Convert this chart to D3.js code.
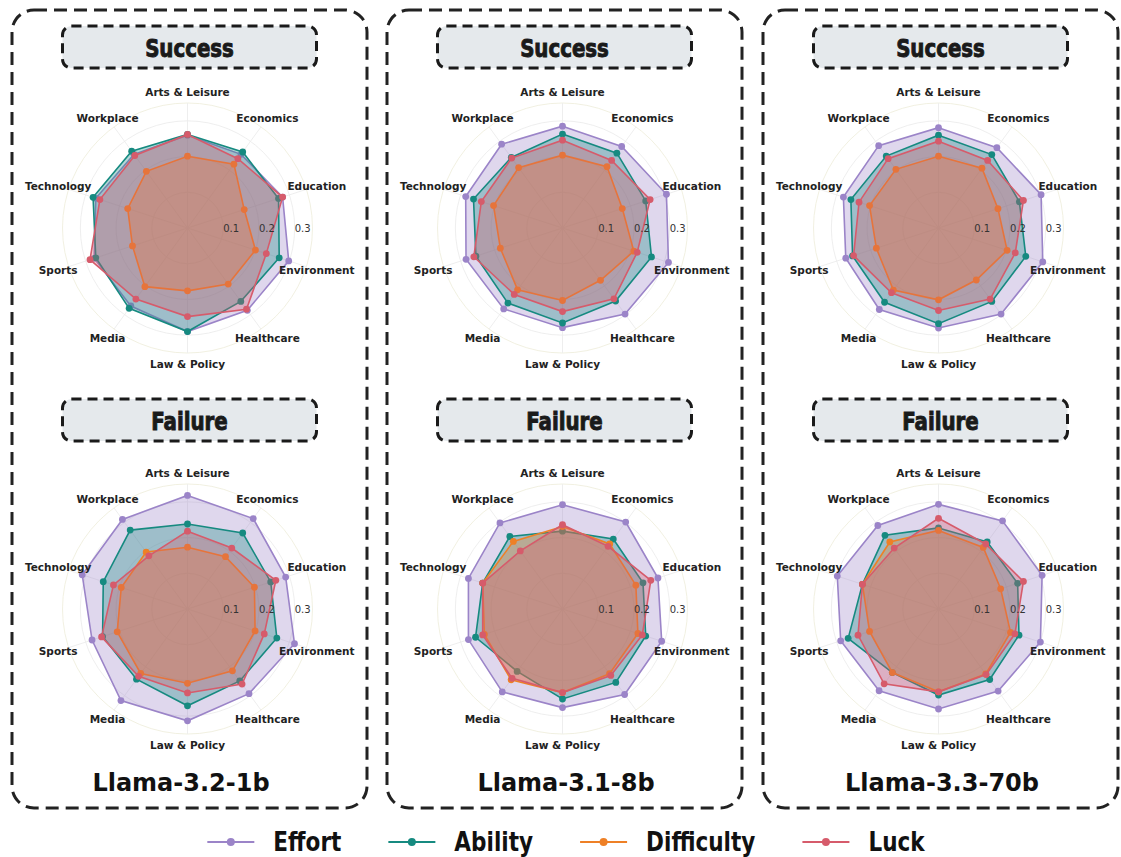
<!DOCTYPE html>
<html>
<head>
<meta charset="utf-8">
<script src="https://cdn.jsdelivr.net/npm/d3@7"></script>
<style>
  body { margin: 0; background: #fff; }
  svg { display: block; }
</style>
</head>
<body>
<svg id="chart" width="1121" height="857"></svg>
<script>
const categories = ["Arts & Leisure", "Economics", "Education", "Environment", "Healthcare",
                    "Law & Policy", "Media", "Sports", "Technology", "Workplace"];
const seriesNames = ["Effort", "Ability", "Difficulty", "Luck"];
const models = ["Llama-3.2-1b", "Llama-3.1-8b", "Llama-3.3-70b"];
const outcomes = ["Success", "Failure"];
const radialTicks = [0.1, 0.2, 0.3];
const radialTickLabels = ["0.1", "0.2", "0.3"];

// rows: Effort, Ability, Difficulty, Luck (columns follow categories)
const llama1bSuccess = [
  [0.260, 0.255, 0.280, 0.298, 0.285, 0.290, 0.270, 0.275, 0.270, 0.255],
  [0.262, 0.263, 0.268, 0.270, 0.254, 0.290, 0.278, 0.270, 0.278, 0.266],
  [0.201, 0.221, 0.167, 0.200, 0.194, 0.176, 0.203, 0.162, 0.176, 0.196],
  [0.262, 0.240, 0.280, 0.232, 0.281, 0.248, 0.246, 0.287, 0.258, 0.251]
];
const llama1bFailure = [
  [0.318, 0.313, 0.289, 0.315, 0.293, 0.313, 0.317, 0.281, 0.310, 0.310],
  [0.238, 0.263, 0.245, 0.263, 0.249, 0.271, 0.243, 0.250, 0.248, 0.273],
  [0.173, 0.181, 0.197, 0.199, 0.214, 0.208, 0.223, 0.207, 0.195, 0.197],
  [0.218, 0.211, 0.260, 0.226, 0.260, 0.235, 0.233, 0.253, 0.218, 0.184]
];
const llama8bSuccess = [
  [0.285, 0.282, 0.306, 0.312, 0.298, 0.279, 0.280, 0.284, 0.285, 0.290],
  [0.263, 0.259, 0.245, 0.262, 0.253, 0.266, 0.260, 0.255, 0.262, 0.244],
  [0.204, 0.212, 0.176, 0.210, 0.181, 0.203, 0.214, 0.183, 0.203, 0.209],
  [0.246, 0.234, 0.258, 0.220, 0.245, 0.234, 0.230, 0.261, 0.239, 0.242]
];
const llama8bFailure = [
  [0.292, 0.301, 0.281, 0.292, 0.296, 0.276, 0.287, 0.277, 0.277, 0.298],
  [0.218, 0.242, 0.237, 0.245, 0.254, 0.252, 0.216, 0.256, 0.235, 0.251],
  [0.231, 0.225, 0.216, 0.222, 0.224, 0.234, 0.245, 0.230, 0.235, 0.234],
  [0.236, 0.217, 0.260, 0.235, 0.230, 0.234, 0.240, 0.235, 0.235, 0.201]
];
const llama70bSuccess = [
  [0.281, 0.278, 0.302, 0.307, 0.298, 0.280, 0.282, 0.273, 0.280, 0.285],
  [0.260, 0.254, 0.238, 0.257, 0.254, 0.268, 0.257, 0.253, 0.258, 0.249],
  [0.201, 0.207, 0.175, 0.202, 0.180, 0.201, 0.215, 0.183, 0.203, 0.203],
  [0.243, 0.234, 0.250, 0.226, 0.246, 0.231, 0.224, 0.250, 0.234, 0.240]
];
const llama70bFailure = [
  [0.293, 0.305, 0.305, 0.300, 0.284, 0.280, 0.283, 0.288, 0.298, 0.289],
  [0.227, 0.232, 0.233, 0.237, 0.244, 0.241, 0.220, 0.266, 0.224, 0.255],
  [0.220, 0.213, 0.183, 0.212, 0.225, 0.232, 0.220, 0.203, 0.224, 0.232],
  [0.254, 0.225, 0.250, 0.225, 0.227, 0.232, 0.259, 0.237, 0.224, 0.211]
];

const panelData = [
  [llama1bSuccess, llama1bFailure],
  [llama8bSuccess, llama8bFailure],
  [llama70bSuccess, llama70bFailure]
];

const colors = d3.scaleOrdinal()
  .domain(seriesNames)
  .range(["#9b84c8", "#168a80", "#ee8026", "#d65b6b"]);

const svg = d3.select('#chart');
const maxR = 0.35;

const r = d3.scaleLinear().domain([0, maxR]).range([0, 125]);
const angle = d3.scaleLinear().domain([0, categories.length]).range([0, 2 * Math.PI]);

const panelLeft = [12, 387, 763];
const panelW = 355;
const panelTop = 10, panelBottom = 808;
const radarY = [228, 609];
const boxY = [26, 399];
const modelX = [181, 566, 942];

const titleFont = '"DejaVu Sans Condensed", "DejaVu Sans", sans-serif';

const radialLine = d3.lineRadial()
  .angle((d, i) => angle(i))
  .radius(d => r(d))
  .curve(d3.curveLinearClosed);

panelLeft.forEach((px, m) => {
  const pcx = px + panelW / 2;
  const cx = pcx - 2;

  // panel frame
  svg.append('rect')
    .attr('x', px).attr('y', panelTop)
    .attr('width', panelW).attr('height', panelBottom - panelTop)
    .attr('rx', 22)
    .attr('fill', 'none')
    .attr('stroke', '#222')
    .attr('stroke-width', 3)
    .attr('stroke-dasharray', '13 7');

  outcomes.forEach((outcome, o) => {
    // title box
    svg.append('rect')
      .attr('x', pcx - 127).attr('y', boxY[o])
      .attr('width', 254).attr('height', 42)
      .attr('rx', 9)
      .attr('fill', '#e5e9ec')
      .attr('stroke', '#1a1a1a')
      .attr('stroke-width', 3)
      .attr('stroke-dasharray', '10 6');

    svg.append('text')
      .attr('transform', `translate(${pcx},${boxY[o] + 22}) scale(1,1.15)`)
      .attr('text-anchor', 'middle')
      .attr('dominant-baseline', 'central')
      .attr('font-family', titleFont)
      .attr('font-weight', 'bold')
      .attr('font-size', 22)
      .attr('fill', '#1a1a1a')
      .attr('stroke', '#1a1a1a')
      .attr('stroke-width', 0.8)
      .text(outcome);

    const g = svg.append('g').attr('transform', `translate(${cx},${radarY[o]})`);

    // grid
    g.selectAll('circle.grid')
      .data(radialTicks.concat([maxR]))
      .join('circle')
      .attr('class', 'grid')
      .attr('r', d => r(d))
      .attr('fill', 'none')
      .attr('stroke', (d, i) => i === radialTicks.length ? '#efeede' : '#ececec')
      .attr('stroke-width', 0.9);

    g.selectAll('line.spoke')
      .data(categories)
      .join('line')
      .attr('class', 'spoke')
      .attr('x1', 0).attr('y1', 0)
      .attr('x2', (d, i) => d3.pointRadial(angle(i), r(maxR))[0])
      .attr('y2', (d, i) => d3.pointRadial(angle(i), r(maxR))[1])
      .attr('stroke', '#ececec')
      .attr('stroke-width', 0.9);

    // series
    const values = panelData[m][o];
    seriesNames.forEach((s, k) => {
      const vals = values[k];
      g.append('path')
        .attr('d', radialLine(vals))
        .attr('fill', colors(s))
        .attr('fill-opacity', 0.32)
        .attr('stroke', colors(s))
        .attr('stroke-width', 1.6);
      g.selectAll(null)
        .data(vals)
        .join('circle')
        .attr('cx', (d, i) => d3.pointRadial(angle(i), r(d))[0])
        .attr('cy', (d, i) => d3.pointRadial(angle(i), r(d))[1])
        .attr('r', 3.4)
        .attr('fill', colors(s));
    });

    // radial tick labels
    g.selectAll('text.tick')
      .data(radialTicks)
      .join('text')
      .attr('class', 'tick')
      .attr('x', d => r(d))
      .attr('y', 0)
      .attr('dominant-baseline', 'central')
      .attr('font-family', 'DejaVu Sans, sans-serif')
      .attr('font-size', 10)
      .attr('fill', '#333')
      .text((d, i) => radialTickLabels[i]);

    // category labels
    g.selectAll('text.cat')
      .data(categories)
      .join('text')
      .attr('class', 'cat')
      .attr('x', (d, i) => d3.pointRadial(angle(i), 136)[0])
      .attr('y', (d, i) => d3.pointRadial(angle(i), 136)[1])
      .attr('text-anchor', 'middle')
      .attr('dominant-baseline', 'central')
      .attr('font-family', 'DejaVu Sans, sans-serif')
      .attr('font-weight', 'bold')
      .attr('font-size', 10.5)
      .attr('fill', '#222')
      .text(d => d);
  });

  svg.append('text')
    .attr('x', modelX[m]).attr('y', 783)
    .attr('text-anchor', 'middle')
    .attr('dominant-baseline', 'central')
    .attr('font-family', 'DejaVu Sans, sans-serif')
    .attr('font-weight', 'bold')
    .attr('font-size', 24)
    .attr('fill', '#111')
    .text(models[m]);
});

// legend
const legend = svg.append('g');
const legY = 842;
let lx = 0;
seriesNames.forEach(s => {
  const item = legend.append('g').attr('transform', `translate(${lx},0)`);
  item.append('line')
    .attr('x1', 0).attr('x2', 47).attr('y1', legY).attr('y2', legY)
    .attr('stroke', colors(s)).attr('stroke-width', 1.8);
  item.append('circle')
    .attr('cx', 23.5).attr('cy', legY).attr('r', 4)
    .attr('fill', colors(s));
  const t = item.append('text')
    .attr('transform', `translate(66,${legY}) scale(1,1.12)`)
    .attr('dominant-baseline', 'central')
    .attr('font-family', titleFont)
    .attr('font-weight', 'bold')
    .attr('font-size', 24)
    .attr('fill', '#111')
    .text(s);
  lx += 66 + t.node().getComputedTextLength() + 47;
});
const legW = lx - 47;
legend.attr('transform', `translate(${566 - legW / 2},0)`);
</script>
</body>
</html>
